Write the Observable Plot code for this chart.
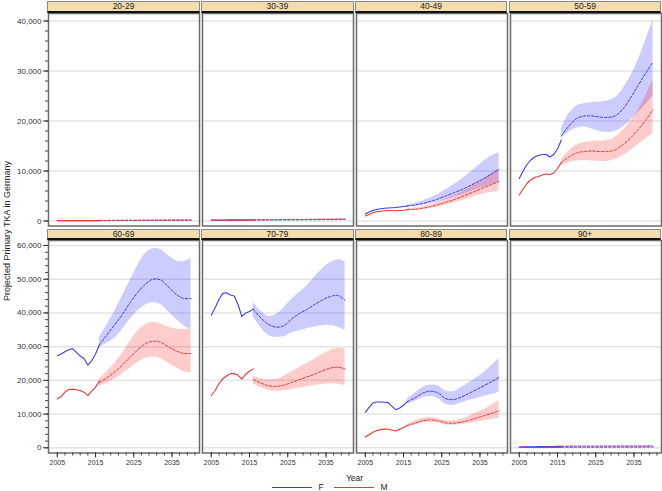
<!DOCTYPE html>
<html><head><meta charset="utf-8">
<script src="https://cdn.jsdelivr.net/npm/d3@7"></script>
<script src="https://cdn.jsdelivr.net/npm/@observablehq/plot@0.6"></script>
<style>
body{margin:0;background:#fff;}
#root{position:relative;width:662px;height:491px;overflow:hidden;font-family:"Liberation Sans",Arial,sans-serif;background:#fff;color:#222;}
.strip{position:absolute;box-sizing:border-box;background:#f3dcad;border:1px solid #8a8a8a;border-bottom:2px solid #111;font-size:8.5px;line-height:9px;text-align:center;color:#222;}
.panel{position:absolute;}
.lbl{position:absolute;white-space:nowrap;}
</style></head><body><div id="root"></div>
<script>
// ---------------- DATA ----------------
const ageGroups = ["20-29", "30-39", "40-49", "50-59", "60-69", "70-79", "80-89", "90+"];
const obsYears = [2005, 2006, 2007, 2008, 2009, 2010, 2011, 2012, 2013, 2014, 2015, 2016];
const projYears = [2016, 2018, 2020, 2022, 2024, 2026, 2028, 2030, 2032, 2034, 2036, 2038, 2040];
const sexes = ["F", "M"];
const xTickLabels = [2005, 2015, 2025, 2035];

const obsF = {
  "20-29": [60, 60, 65, 65, 70, 70, 70, 70, 75, 75, 80, 80],
  "30-39": [150, 155, 160, 165, 170, 170, 170, 175, 175, 180, 185, 190],
  "40-49": [1400, 1800, 2100, 2300, 2450, 2550, 2600, 2650, 2700, 2800, 2900, 3000],
  "50-59": [8500, 10000, 11300, 12200, 12800, 13100, 13300, 13300, 12800, 13300, 14400, 16200],
  "60-69": [27300, 27800, 28500, 29100, 29400, 28300, 27200, 26500, 24500, 25800, 27800, 30500],
  "70-79": [39300, 41500, 44000, 45800, 46000, 45300, 45000, 42500, 38900, 40000, 40400, 41200],
  "80-89": [10500, 12000, 13300, 13600, 13600, 13500, 13400, 12300, 11300, 11800, 12600, 13700],
  "90+": [250, 270, 290, 310, 330, 350, 370, 380, 390, 400, 420, 440]
};
const obsM = {
  "20-29": [90, 95, 95, 100, 100, 100, 105, 105, 105, 110, 110, 110],
  "30-39": [200, 205, 210, 215, 215, 220, 220, 225, 225, 230, 230, 235],
  "40-49": [1000, 1300, 1650, 1850, 1950, 2050, 2100, 2100, 2050, 2100, 2150, 2250],
  "50-59": [5200, 6400, 7500, 8200, 8700, 8900, 9200, 9400, 9300, 9600, 10500, 11700],
  "60-69": [14500, 15200, 16500, 17300, 17400, 17200, 17000, 16500, 15500, 16800, 18000, 19800],
  "70-79": [15500, 17000, 19000, 20500, 21300, 22000, 22000, 21500, 20400, 21800, 22700, 23400],
  "80-89": [3200, 3900, 4600, 5100, 5400, 5600, 5500, 5200, 5000, 5500, 6000, 6600],
  "90+": [80, 85, 90, 95, 100, 105, 110, 115, 120, 125, 130, 135]
};
const meanF = {
  "20-29": [80, 85, 90, 95, 100, 105, 110, 115, 120, 125, 130, 135, 140],
  "30-39": [190, 200, 210, 220, 230, 240, 250, 260, 270, 280, 290, 300, 310],
  "40-49": [3000, 3200, 3500, 3900, 4400, 5000, 5600, 6200, 6900, 7700, 8500, 9400, 10300],
  "50-59": [17000, 19000, 20500, 21000, 21000, 20800, 20700, 21000, 22300, 24500, 27000, 29500, 31800],
  "60-69": [30500, 33500, 36500, 39500, 43000, 46000, 48500, 50000, 49800, 47800, 45600, 44300, 44300],
  "70-79": [41000, 38500, 36600, 35800, 36200, 38200, 39800, 41000, 42500, 43800, 44800, 45200, 43800],
  "80-89": [13700, 14800, 16200, 16800, 16300, 14600, 14300, 15000, 16100, 17200, 18400, 19600, 20900],
  "90+": [440, 450, 455, 460, 465, 470, 475, 480, 485, 490, 495, 500, 505]
};
const hiF = {
  "20-29": [85, 92, 100, 108, 116, 124, 132, 140, 148, 156, 164, 172, 180],
  "30-39": [200, 215, 230, 245, 260, 275, 290, 305, 320, 335, 350, 365, 380],
  "40-49": [3200, 3500, 4000, 4600, 5300, 6200, 7200, 8200, 9400, 10700, 12000, 13000, 13700],
  "50-59": [18500, 21500, 23000, 23500, 23700, 23800, 24000, 24600, 26300, 28800, 32000, 36000, 40200],
  "60-69": [32800, 36500, 40500, 45000, 49500, 54000, 57500, 59000, 58800, 57000, 55500, 55200, 56200],
  "70-79": [43200, 40500, 39000, 39500, 41500, 44000, 46000, 48000, 50500, 53000, 54800, 55800, 55300],
  "80-89": [14500, 16200, 17800, 18600, 18300, 16900, 16600, 17800, 19200, 20600, 22300, 24300, 26500],
  "90+": [470, 490, 505, 520, 535, 550, 565, 580, 595, 610, 625, 640, 655]
};
const loF = {
  "20-29": [75, 78, 80, 82, 84, 86, 88, 90, 92, 94, 96, 98, 100],
  "30-39": [180, 185, 190, 195, 200, 205, 210, 215, 220, 225, 230, 235, 240],
  "40-49": [2800, 2950, 3150, 3450, 3800, 4250, 4700, 5200, 5700, 6300, 6800, 7300, 7700],
  "50-59": [16500, 17800, 18600, 18800, 18400, 17900, 17700, 17900, 18700, 20000, 21600, 23200, 25000],
  "60-69": [29800, 31000, 32500, 35000, 38000, 40500, 42300, 43000, 42500, 40500, 38300, 36300, 35200],
  "70-79": [38800, 35500, 33300, 32700, 33000, 34000, 34700, 35300, 35800, 36200, 36300, 35800, 34800],
  "80-89": [13000, 13800, 14800, 15200, 14600, 12900, 12600, 13300, 14000, 14600, 15200, 15800, 16500],
  "90+": [410, 410, 405, 400, 395, 390, 385, 380, 375, 370, 365, 360, 355]
};
const meanM = {
  "20-29": [110, 118, 126, 134, 142, 150, 158, 166, 174, 182, 190, 198, 206],
  "30-39": [235, 245, 255, 265, 275, 285, 295, 305, 315, 325, 335, 345, 355],
  "40-49": [2250, 2350, 2550, 2850, 3250, 3700, 4200, 4800, 5400, 6000, 6700, 7300, 7900],
  "50-59": [11700, 12800, 13600, 13900, 14000, 13900, 13900, 14200, 15200, 16500, 18200, 20100, 22300],
  "60-69": [19300, 20800, 22500, 24500, 26800, 29000, 30800, 31600, 31300, 30000, 28800, 28000, 28000],
  "70-79": [20200, 19200, 18400, 18200, 18600, 19400, 20200, 21000, 21800, 22800, 23600, 23900, 23400],
  "80-89": [6600, 7300, 8000, 8300, 8000, 7400, 7300, 7600, 8100, 8800, 9500, 10200, 11000],
  "90+": [135, 140, 145, 150, 155, 160, 165, 170, 175, 180, 185, 190, 195]
};
const hiM = {
  "20-29": [115, 126, 138, 150, 162, 174, 186, 198, 210, 222, 234, 246, 258],
  "30-39": [245, 262, 280, 298, 316, 334, 352, 370, 388, 406, 424, 442, 460],
  "40-49": [2450, 2600, 2850, 3250, 3750, 4400, 5000, 5700, 6500, 7400, 8400, 9400, 10500],
  "50-59": [12300, 14000, 15200, 15700, 15900, 16000, 16100, 16700, 18000, 19800, 22000, 25000, 28300],
  "60-69": [20500, 22500, 25000, 28000, 31500, 34500, 36500, 37200, 36800, 35800, 35200, 35100, 35300],
  "70-79": [21300, 20500, 20100, 20300, 21200, 22500, 23800, 25000, 26300, 27600, 28800, 29500, 29300],
  "80-89": [7000, 8000, 8700, 9000, 8600, 8000, 8000, 8500, 9300, 10300, 11300, 12600, 14000],
  "90+": [140, 150, 160, 170, 180, 190, 200, 210, 220, 230, 240, 250, 260]
};
const loM = {
  "20-29": [105, 110, 114, 118, 122, 126, 130, 134, 138, 142, 146, 150, 154],
  "30-39": [225, 228, 231, 234, 237, 240, 243, 246, 249, 252, 255, 258, 261],
  "40-49": [2100, 2150, 2300, 2550, 2800, 3200, 3600, 4000, 4500, 5000, 5400, 5700, 6000],
  "50-59": [11000, 11700, 12000, 12100, 12000, 11900, 11900, 12300, 13000, 14000, 15200, 16400, 17500],
  "60-69": [18200, 19200, 20300, 21800, 23500, 25300, 26500, 26900, 26500, 25200, 23800, 22600, 22100],
  "70-79": [19000, 17800, 17000, 16800, 16900, 17300, 17700, 18100, 18500, 18800, 19000, 18900, 18400],
  "80-89": [6200, 6700, 7400, 7600, 7400, 6800, 6700, 6900, 7200, 7600, 8000, 8400, 8800],
  "90+": [130, 130, 130, 130, 130, 130, 130, 130, 130, 130, 130, 130, 130]
};

// ---------------- LAYOUT ----------------
const root = document.getElementById("root");
const colLeft = [48, 201.9, 355.7, 509.6];
const plotW = 151;
const rowTop = [12.5, 240];
const plotH = 212.5;
const stripTop = [1, 228.5];
const yDomains = [[-1000, 41500], [-1540, 61480]];
const yMajor = [d3.range(0, 40001, 10000), d3.range(0, 60001, 10000)];
const yMinor = [d3.range(0, 40001, 2000), d3.range(0, 60001, 2000)];
const xDomain = [2002.7, 2042.2];
const colF = "#3a3af2", colM = "#ef3434";
const bandF = "#0000ff", bandM = "#ff0000";

ageGroups.forEach((g, i) => {
  const r = Math.floor(i / 4), c = i % 4;
  const obsRows = s => obsYears.map((yr, k) => ({year: yr, value: (s === "F" ? obsF : obsM)[g][k]}));
  const projRows = s => projYears.map((yr, k) => ({
    year: yr,
    value: (s === "F" ? meanF : meanM)[g][k],
    lo: (s === "F" ? loF : loM)[g][k],
    hi: (s === "F" ? hiF : hiM)[g][k]
  }));
  const mL = c === 0 ? 48 : 1, mR = 1, mT = 1, mB = r === 1 ? 28 : 1;
  const marks = [
    Plot.gridY(yMajor[r], {stroke: "#e4e4e4", strokeOpacity: 1, strokeWidth: 1.5}),
    Plot.areaY(projRows("F"), {x: "year", y1: "lo", y2: "hi", fill: bandF, fillOpacity: 0.2, curve: "catmull-rom"}),
    Plot.areaY(projRows("M"), {x: "year", y1: "lo", y2: "hi", fill: bandM, fillOpacity: 0.2, curve: "catmull-rom"}),
    Plot.line(obsRows("F"), {x: "year", y: "value", stroke: colF, strokeWidth: 1.1}),
    Plot.line(obsRows("M"), {x: "year", y: "value", stroke: colM, strokeWidth: 1.1}),
    Plot.line(projRows("F"), {x: "year", y: "value", stroke: colF, strokeWidth: 1, strokeDasharray: "2.5,1.8", curve: "catmull-rom"}),
    Plot.line(projRows("M"), {x: "year", y: "value", stroke: colM, strokeWidth: 1, strokeDasharray: "2.5,1.8", curve: "catmull-rom"}),
    Plot.frame({stroke: "#6a6a6a", strokeWidth: 1.5})
  ];
  if (c === 0) {
    marks.push(Plot.axisY({ticks: yMinor[r], tickSize: 3, tickFormat: () => "", label: null, color: "#444"}));
    marks.push(Plot.axisY({ticks: yMajor[r], tickSize: 5, tickPadding: 2, tickFormat: d3.format(","), label: null, fontSize: 8, color: "#333"}));
  }
  if (r === 1) {
    marks.push(Plot.axisX({ticks: d3.range(2005, 2042, 2), tickSize: 3, tickFormat: () => "", label: null, color: "#444"}));
    marks.push(Plot.axisX({ticks: xTickLabels, tickSize: 5, tickPadding: 2, tickFormat: d => String(d), label: null, fontSize: 7, color: "#333"}));
  }
  const svg = Plot.plot({
    width: mL + plotW + mR,
    height: mT + plotH + mB,
    marginLeft: mL, marginRight: mR, marginTop: mT, marginBottom: mB,
    x: {domain: xDomain, axis: null, label: null},
    y: {domain: yDomains[r], axis: null, label: null},
    style: {background: "transparent", fontFamily: "'Liberation Sans', Arial, sans-serif", overflow: "visible"},
    marks
  });
  svg.classList.add("panel");
  svg.style.left = (colLeft[c] - mL) + "px";
  svg.style.top = (rowTop[r] - mT) + "px";
  root.appendChild(svg);

  const strip = document.createElement("div");
  strip.className = "strip";
  strip.style.left = (colLeft[c] - 0.75) + "px";
  strip.style.top = stripTop[r] + "px";
  strip.style.width = (plotW + 1.5) + "px";
  strip.style.height = (rowTop[r] - stripTop[r]) + "px";
  strip.textContent = g;
  root.appendChild(strip);
});

// axis titles and legend
const yTitle = document.createElement("div");
yTitle.className = "lbl";
yTitle.textContent = "Projected Primary TKA in Germany";
Object.assign(yTitle.style, {left: "7px", top: "230.5px", fontSize: "9px", transform: "translate(-50%,-50%) rotate(-90deg)", color: "#222"});
root.appendChild(yTitle);

const xTitle = document.createElement("div");
xTitle.className = "lbl";
xTitle.textContent = "Year";
Object.assign(xTitle.style, {left: "354.5px", top: "477.5px", fontSize: "8.5px", transform: "translate(-50%,-50%)", color: "#222"});
root.appendChild(xTitle);

const legendItems = [
  {label: sexes[0], color: colF, x0: 272, tx: 318.5},
  {label: sexes[1], color: colM, x0: 334, tx: 380.5}
];
legendItems.forEach(it => {
  const ln = document.createElement("div");
  Object.assign(ln.style, {position: "absolute", left: it.x0 + "px", top: "486.5px", width: "40px", height: "0", borderTop: "1.5px solid " + it.color});
  root.appendChild(ln);
  const t = document.createElement("div");
  t.className = "lbl";
  t.textContent = it.label;
  Object.assign(t.style, {left: it.tx + "px", top: "482px", fontSize: "8.5px", lineHeight: "10px", color: "#222"});
  root.appendChild(t);
});
</script>
</body></html>
